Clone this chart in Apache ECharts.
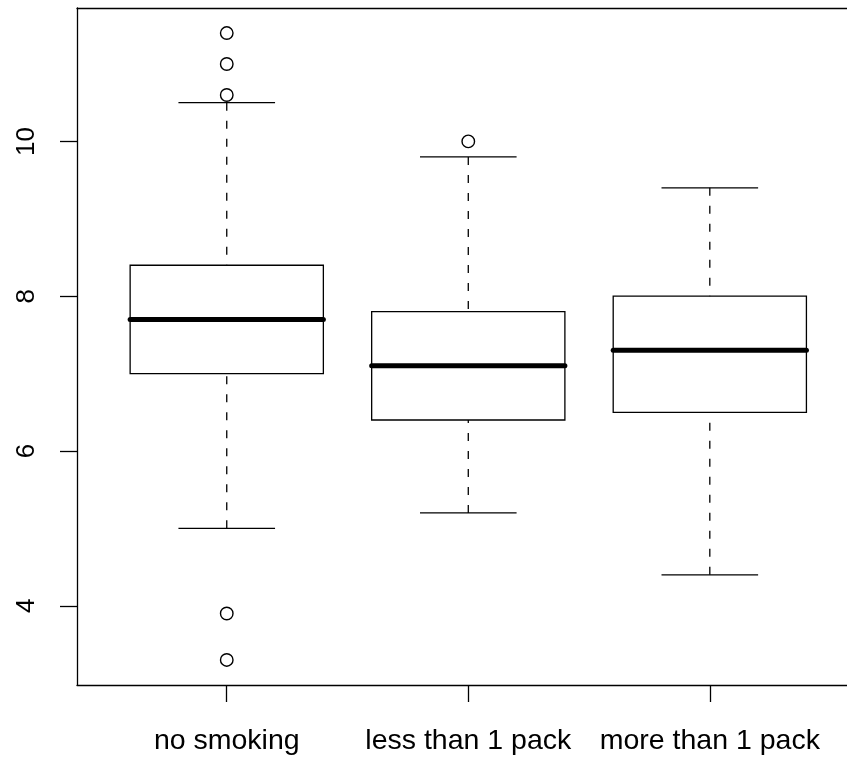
<!DOCTYPE html>
<html>
<head>
<meta charset="utf-8">
<script src="https://cdn.jsdelivr.net/npm/echarts@6/dist/echarts.min.js"></script>
<style>html,body{margin:0;padding:0;background:#fff}#c{width:847px;height:757px}</style>
</head>
<body>
<div id="c"></div>
<script>
// ---- data ----
var categories = ['no smoking', 'less than 1 pack', 'more than 1 pack'];
var positions = [1, 2, 3];
var lowerWhisker = [5.0, 5.2, 4.4];
var q1 = [7.0, 6.4, 6.5];
var median = [7.7, 7.1, 7.3];
var q3 = [8.4, 7.8, 8.0];
var upperWhisker = [10.5, 9.8, 9.4];
var outlierGroup = [1, 1, 1, 1, 1, 2];
var outlierValue = [11.4, 11.0, 10.6, 3.9, 3.3, 10.0];
var yTicks = [4, 6, 8, 10];

var boxData = positions.map(function (p, i) {
  return [p, lowerWhisker[i], q1[i], median[i], q3[i], upperWhisker[i]];
});
var outlierData = outlierGroup.map(function (g, i) { return [g, outlierValue[i]]; });

var FONT = '"Liberation Sans", Arial, Helvetica, sans-serif';
var LW = 1.3;

function renderBox(params, api) {
  var x = api.value(0);
  var lo = api.coord([x, api.value(1)]);
  var b1 = api.coord([x, api.value(2)]);
  var md = api.coord([x, api.value(3)]);
  var b3 = api.coord([x, api.value(4)]);
  var hi = api.coord([x, api.value(5)]);
  var bw = api.size([0.8, 0])[0];
  var sw = api.size([0.4, 0])[0];
  var cx = lo[0];
  var dashStyle = { stroke: '#000', lineWidth: LW, lineDash: [8, 10], fill: null };
  var solid = { stroke: '#000', lineWidth: LW, fill: null };
  return {
    type: 'group',
    children: [
      { type: 'line', shape: { x1: cx, y1: lo[1], x2: cx, y2: b1[1] }, style: dashStyle },
      { type: 'line', shape: { x1: cx, y1: hi[1], x2: cx, y2: b3[1] }, style: dashStyle },
      { type: 'line', shape: { x1: cx - sw / 2, y1: lo[1], x2: cx + sw / 2, y2: lo[1] }, style: solid },
      { type: 'line', shape: { x1: cx - sw / 2, y1: hi[1], x2: cx + sw / 2, y2: hi[1] }, style: solid },
      { type: 'rect', shape: { x: cx - bw / 2, y: b3[1], width: bw, height: b1[1] - b3[1] },
        style: { stroke: '#000', lineWidth: LW, fill: 'rgba(0,0,0,0)' } },
      { type: 'line', shape: { x1: cx - bw / 2, y1: md[1], x2: cx + bw / 2, y2: md[1] },
        style: { stroke: '#000', lineWidth: 5, lineCap: 'round', fill: null } }
    ]
  };
}

var chart = echarts.init(document.getElementById('c'), null, { renderer: 'canvas' });
chart.setOption({
  animation: false,
  backgroundColor: '#fff',
  grid: { left: 77, top: 8, right: 0, bottom: 72, show: false, containLabel: false },
  xAxis: [{
    type: 'value', min: 0.38, max: 3.568,
    axisLine: { show: true, onZero: false, lineStyle: { color: '#000', width: LW } },
    axisTick: { show: true, length: 17, customValues: positions, lineStyle: { color: '#000', width: LW } },
    axisLabel: {
      customValues: positions, margin: 42, color: '#000', fontSize: 28.5, fontFamily: FONT,
      formatter: function (v) { return categories[Math.round(v) - 1]; }
    },
    splitLine: { show: false }
  }, {
    type: 'value', position: 'top', min: 0.38, max: 3.568,
    axisLine: { show: true, onZero: false, lineStyle: { color: '#000', width: LW } },
    axisTick: { show: false }, axisLabel: { show: false }, splitLine: { show: false }
  }],
  yAxis: {
    type: 'value', min: 2.976, max: 11.724,
    axisLine: { show: true, onZero: false, lineStyle: { color: '#000', width: LW } },
    axisTick: { show: true, length: 17, customValues: yTicks, lineStyle: { color: '#000', width: LW } },
    axisLabel: { customValues: yTicks, rotate: 90, margin: 37, color: '#000', fontSize: 26, fontFamily: FONT },
    splitLine: { show: false }
  },
  series: [
    {
      type: 'custom', renderItem: renderBox, data: boxData, xAxisIndex: 0,
      encode: { x: 0, y: [1, 2, 3, 4, 5] }, clip: false, z: 2
    },
    {
      type: 'scatter', data: outlierData, xAxisIndex: 0, symbol: 'circle', symbolSize: 12.5, z: 3,
      itemStyle: { color: 'rgba(0,0,0,0)', borderColor: '#000', borderWidth: 1.4, opacity: 1 }
    }
  ]
});
</script>
</body>
</html>
